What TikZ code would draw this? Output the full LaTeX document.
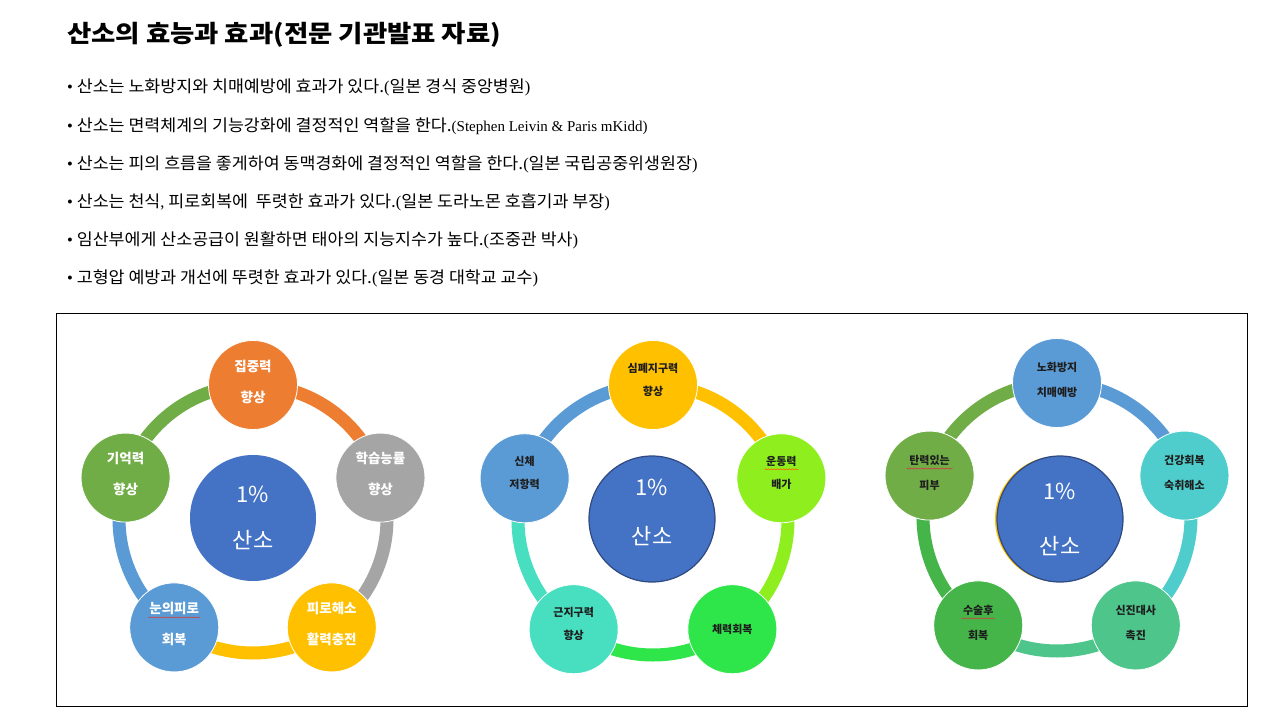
\documentclass[tikz,border=0pt]{standalone}
\usepackage{fontspec}
\setmainfont{Liberation Serif}
\newfontfamily\kr{Noto Sans CJK KR}
\newfontfamily\krw{Noto Sans CJK KR}[FakeStretch=1.05]
\newfontfamily\krt{Noto Sans CJK KR}[FakeStretch=1.1]
\usetikzlibrary{decorations.pathmorphing}
\newcommand\lt[1]{{\rmfamily #1}}
\newcommand\dn[1]{\rule[-#1]{0pt}{#1}}
\definecolor{cOrange}{HTML}{ED7D31}
\definecolor{cGray}{HTML}{A5A5A5}
\definecolor{cYellow}{HTML}{FFC000}
\definecolor{cBlue}{HTML}{5B9BD5}
\definecolor{cGreen}{HTML}{70AD47}
\definecolor{cCenter}{HTML}{4472C4}
\definecolor{cCenterEdge}{HTML}{2F4A80}
\definecolor{cLime}{HTML}{8FEF1E}
\definecolor{cBright}{HTML}{2EE54A}
\definecolor{cTurq}{HTML}{48DEC0}
\definecolor{cTeal}{HTML}{4FCDCD}
\definecolor{cSea}{HTML}{4DC58B}
\definecolor{cLeaf}{HTML}{45B54A}
\definecolor{cText}{HTML}{1E1E1E}
\definecolor{cSpell}{HTML}{D04040}
\tikzset{
  ring/.style={line width=13pt},
  petal/.style={circle, minimum size=89pt, inner sep=0pt, draw=white, line width=0.8pt, align=center},
  petalA/.style={petal, text=white, font={\kr\bfseries\fontsize{13.5}{31}\selectfont}},
  petalB/.style={petal, text=cText, font={\kr\bfseries\fontsize{11}{23}\selectfont}},
  petalC/.style={petal, text=cText, font={\kr\bfseries\fontsize{11}{25}\selectfont}},
  hub/.style={circle, minimum size=126pt, inner sep=0pt, fill=cCenter, text=white, align=center},
  bullet/.style={anchor=west, font={\krw\fontsize{16.5}{16.5}\selectfont}, inner sep=0pt},
  spell/.style={cSpell, line width=0.6pt, decorate, decoration={snake, amplitude=0.5pt, segment length=3pt}}
}
\begin{document}
\begin{tikzpicture}[x=1pt,y=1pt]
\useasboundingbox (0,0) rectangle (1280,-720);
\fill[white] (0,0) rectangle (1280,-720);

% title and bullets
\node[anchor=west, inner sep=0pt, font={\krt\bfseries\fontsize{24}{24}\selectfont}] (title) at (67,-35) {산소의 효능과 효과(전문 기관발표 자료)};
\node[bullet] (b1) at (67,-87)  {\lt{•} 산소는 노화방지와 치매예방에 효과가 있다.\lt{(}일본 경식 중앙병원\lt{)}};
\node[bullet] (b2) at (67,-126) {\lt{•} 산소는 면력체계의 기능강화에 결정적인 역할을 한다.\lt{\fontsize{15}{15}\selectfont(Stephen Leivin \& Paris mKidd)}};
\node[bullet] (b3) at (67,-164) {\lt{•} 산소는 피의 흐름을 좋게하여 동맥경화에 결정적인 역할을 한다.\lt{(}일본 국립공중위생원장\lt{)}};
\node[bullet] (b4) at (67,-202) {\lt{•} 산소는 천식\lt{,} 피로회복에 \ 뚜렷한 효과가 있다.\lt{(}일본 도라노몬 호흡기과 부장\lt{)}};
\node[bullet] (b5) at (67,-240) {\lt{•} 임산부에게 산소공급이 원활하면 태아의 지능지수가 높다.\lt{(}조중관 박사\lt{)}};
\node[bullet] (b6) at (67,-278) {\lt{•} 고형압 예방과 개선에 뚜렷한 효과가 있다.\lt{(}일본 동경 대학교 교수\lt{)}};

% frame
\draw[black, line width=0.9pt] (56,-313) rectangle (1247,-706);

% ---------------- diagram 1
\coordinate (c1) at (253,-519);
\coordinate (a1t) at ([shift={(90:134)}]c1);
\coordinate (a1r) at ([shift={(18:134)}]c1);
\coordinate (a1br) at ([shift={(-54:134)}]c1);
\coordinate (a1bl) at ([shift={(-126:134)}]c1);
\coordinate (a1l) at ([shift={(162:134)}]c1);
\draw[ring, cOrange] (a1t) arc[start angle=90, end angle=18, radius=134];
\draw[ring, cGray] (a1r) arc[start angle=18, end angle=-54, radius=134];
\draw[ring, cYellow] (a1br) arc[start angle=-54, end angle=-126, radius=134];
\draw[ring, cBlue] (a1bl) arc[start angle=-126, end angle=-198, radius=134];
\draw[ring, cGreen] (a1l) arc[start angle=162, end angle=90, radius=134];
\node[hub, font={\kr\fontsize{22}{46}\selectfont}] (h1) at (253,-518) {1\%\\산소};
\node[petalA, fill=cOrange] (n1t) at (a1t) {집중력\\향상\dn{8pt}};
\node[petalA, fill=cGray] (n1r) at (a1r) {학습능률\\향상\dn{8pt}};
\node[petalA, fill=cYellow] (n1br) at (a1br) {피로해소\\활력충전\dn{8pt}};
\node[petalA, fill=cBlue] (n1bl) at (a1bl) {눈의피로\\회복\dn{8pt}};
\node[petalA, fill=cGreen] (n1l) at (a1l) {기억력\\향상\dn{8pt}};
\draw[spell] ([shift={(-26,10)}]n1bl.center) -- ([shift={(26,10)}]n1bl.center);

% ---------------- diagram 2
\coordinate (c2) at (653,-520);
\coordinate (a2t) at ([shift={(90:135)}]c2);
\coordinate (a2r) at ([shift={(18:135)}]c2);
\coordinate (a2br) at ([shift={(-54:135)}]c2);
\coordinate (a2bl) at ([shift={(-126:135)}]c2);
\coordinate (a2l) at ([shift={(162:135)}]c2);
\draw[ring, cYellow] (a2t) arc[start angle=90, end angle=18, radius=135];
\draw[ring, cLime] (a2r) arc[start angle=18, end angle=-54, radius=135];
\draw[ring, cBright] (a2br) arc[start angle=-54, end angle=-126, radius=135];
\draw[ring, cTurq] (a2bl) arc[start angle=-126, end angle=-198, radius=135];
\draw[ring, cBlue] (a2l) arc[start angle=162, end angle=90, radius=135];
\node[hub, draw=cCenterEdge, line width=1.2pt, font={\kr\fontsize{22}{49}\selectfont}] (h2) at (652,-519) {1\%\\산소\dn{15pt}};
\node[petalB, fill=cYellow] (n2t) at (a2t) {심폐지구력\\향상\dn{11pt}};
\node[petalB, fill=cLime] (n2r) at (a2r) {운동력\\배가\dn{11pt}};
\node[petalB, fill=cBright] (n2br) at (a2br) {체력회복};
\node[petalB, fill=cTurq] (n2bl) at (a2bl) {근지구력\\향상\dn{11pt}};
\node[petalB, fill=cBlue] (n2l) at (a2l) {신체\\저항력\dn{11pt}};
\draw[spell, color=orange!80!red] ([shift={(-17,9)}]n2r.center) -- ([shift={(17,9)}]n2r.center);

% ---------------- diagram 3
\coordinate (c3) at (1057,-517);
\coordinate (a3t) at ([shift={(90:134)}]c3);
\coordinate (a3r) at ([shift={(18:134)}]c3);
\coordinate (a3br) at ([shift={(-54:134)}]c3);
\coordinate (a3bl) at ([shift={(-126:134)}]c3);
\coordinate (a3l) at ([shift={(162:134)}]c3);
\draw[ring, cBlue] (a3t) arc[start angle=90, end angle=18, radius=134];
\draw[ring, cTeal] (a3r) arc[start angle=18, end angle=-54, radius=134];
\draw[ring, cSea] (a3br) arc[start angle=-54, end angle=-126, radius=134];
\draw[ring, cLeaf] (a3bl) arc[start angle=-126, end angle=-198, radius=134];
\draw[ring, cGreen] (a3l) arc[start angle=162, end angle=90, radius=134];
\fill[cYellow] (1058,-519) circle[radius=63];
\node[hub, draw=cCenterEdge, line width=1.2pt, font={\kr\fontsize{22}{55}\selectfont}] (h3) at (1060,-519) {1\%\\산소};
\node[petalC, fill=cBlue] (n3t) at (a3t) {노화방지\\치매예방\dn{7pt}};
\node[petalC, fill=cTeal] (n3r) at (a3r) {건강회복\\숙취해소\dn{7pt}};
\node[petalC, fill=cSea] (n3br) at (a3br) {신진대사\\촉진\dn{7pt}};
\node[petalC, fill=cLeaf] (n3bl) at (a3bl) {수술후\\회복\dn{7pt}};
\node[petalC, fill=cGreen] (n3l) at (a3l) {탄력있는\\피부\dn{7pt}};
\draw[spell] ([shift={(-23,7)}]n3l.center) -- ([shift={(23,7)}]n3l.center);
\draw[spell] ([shift={(-17,7)}]n3bl.center) -- ([shift={(17,7)}]n3bl.center);
\end{tikzpicture}
\end{document}
